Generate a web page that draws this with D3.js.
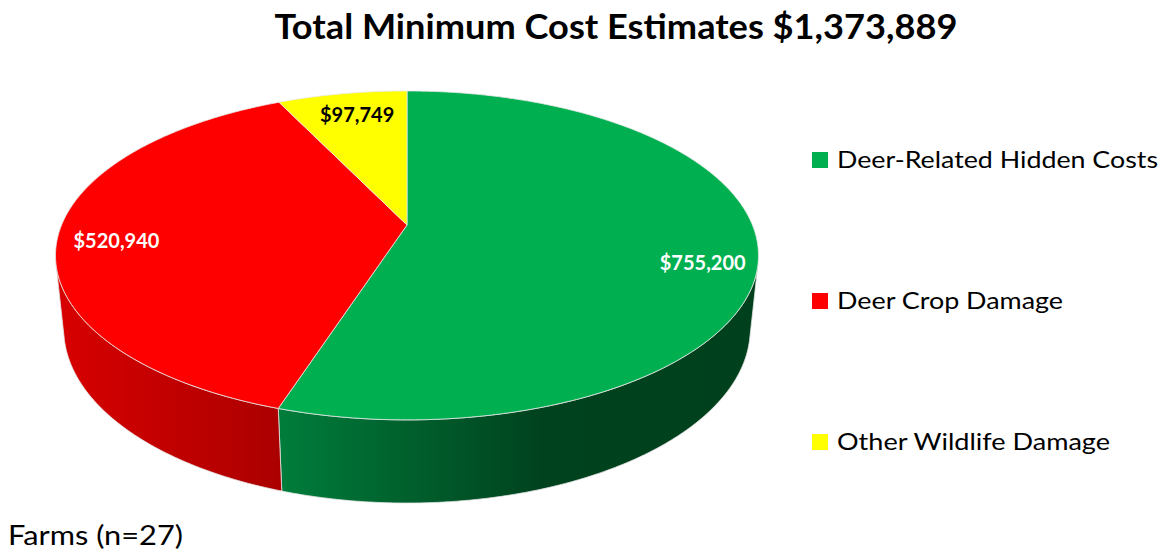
<!DOCTYPE html>
<html>
<head>
<meta charset="utf-8">
<script src="https://cdn.jsdelivr.net/npm/d3@7"></script>
<style>
  body { margin: 0; background: #fff; }
  svg { display: block; font-family: Lato, "Open Sans", sans-serif; }
</style>
</head>
<body>
<svg id="chart" width="1167" height="550"></svg>
<script>
// data
var categories = ["Deer-Related Hidden Costs", "Deer Crop Damage", "Other Wildlife Damage"];
var values = [755200, 520940, 97749];
var colors = ["#00b050", "#ff0000", "#ffff00"];
var labelColors = ["#ffffff", "#ffffff", "#000000"];
var title = "Total Minimum Cost Estimates $1,373,889";
var note = "Farms (n=27)";

var svg = d3.select("#chart");
var fmt = d3.format("$,");

// 3d view (perspective pie, fitted to the picture)
var cx = 407, cy = 225,
    F = 1658, D = 4.8,
    cosA = 0.4598, sinA = 0.888,
    depth = 0.242;

function proj(a, r, w) {
    var u = r * Math.sin(a), v = -r * Math.cos(a);
    var yc = v * cosA - w * sinA,
        zc = v * sinA + w * cosA;
    return [cx + F * u / (D - zc), cy + F * yc / (D - zc)];
}

function arcPts(a0, a1, w) {
    var n = Math.max(2, Math.ceil((a1 - a0) / (Math.PI / 360)));
    return d3.range(n + 1).map(function (i) { return proj(a0 + (a1 - a0) * i / n, 1, w); });
}

var pie = d3.pie().sort(null).value(function (d) { return d; });
var arcs = pie(values);

// front facing part of the wall
var v0 = 1 / (D * sinA);
var visMin = Math.acos(-v0), visMax = 2 * Math.PI - visMin;

var defs = svg.append("defs");
var wallStops = [
    [[0, "#007d3b"], [0.55, "#00421e"], [1, "#00401d"]],
    [[0, "#d80000"], [1, "#ab0000"]],
    [[0, "#e0e000"], [1, "#b8b800"]]
];

var line = d3.line();
var gWall = svg.append("g");
arcs.forEach(function (d, i) {
    var a0 = Math.max(d.startAngle, visMin), a1 = Math.min(d.endAngle, visMax);
    if (a1 <= a0) return;
    var top = arcPts(a0, a1, 0), bot = arcPts(a0, a1, -depth).reverse();
    var ext = d3.extent(top.concat(bot), function (p) { return p[0]; });
    // side gets darker toward the right, like Excel's 3d shading
    var grad = defs.append("linearGradient")
        .attr("id", "wall" + i)
        .attr("gradientUnits", "userSpaceOnUse")
        .attr("x1", ext[0]).attr("x2", ext[1])
        .attr("y1", 0).attr("y2", 0);
    wallStops[i].forEach(function (s) {
        grad.append("stop").attr("offset", s[0]).attr("stop-color", s[1]);
    });
    gWall.append("path")
        .attr("d", line(top.concat(bot)) + "Z")
        .attr("fill", "url(#wall" + i + ")")
        .attr("stroke", "#e4e4e4")
        .attr("stroke-width", 0.8)
        .attr("stroke-linejoin", "round");
});

// top faces
var gTop = svg.append("g");
arcs.forEach(function (d, i) {
    var pts = [proj(0, 0, 0)].concat(arcPts(d.startAngle, d.endAngle, 0));
    gTop.append("path")
        .attr("d", line(pts) + "Z")
        .attr("fill", colors[i])
        .attr("stroke", "#e8e8e8")
        .attr("stroke-width", 0.8)
        .attr("stroke-linejoin", "round");
});

// data labels
var labelNudge = [[2, 16], [2, 6], [6, 2]];
arcs.forEach(function (d, i) {
    var p = proj((d.startAngle + d.endAngle) / 2, 0.84, 0);
    svg.append("text")
        .attr("x", p[0] + labelNudge[i][0])
        .attr("y", p[1] + labelNudge[i][1])
        .attr("text-anchor", "middle")
        .attr("dominant-baseline", "central")
        .attr("font-weight", "bold")
        .attr("font-size", 20)
        .attr("fill", labelColors[i])
        .text(fmt(values[i]));
});

// title
svg.append("text")
    .attr("x", 616).attr("y", 39)
    .attr("text-anchor", "middle")
    .attr("font-weight", "bold")
    .attr("font-size", 34)
    .attr("textLength", 683)
    .attr("lengthAdjust", "spacingAndGlyphs")
    .text(title);

// legend
var legendY = d3.scalePoint().domain(categories).range([160, 442]);
var legendW = [321, 226, 273];
var lg = svg.append("g").selectAll("g")
    .data(categories)
    .enter().append("g")
    .attr("transform", function (d) { return "translate(812," + legendY(d) + ")"; });
lg.append("rect")
    .attr("x", 0).attr("y", -8)
    .attr("width", 16).attr("height", 16)
    .attr("fill", function (d, i) { return colors[i]; });
lg.append("text")
    .attr("x", 25).attr("y", 8)
    .attr("font-size", 23)
    .attr("textLength", function (d, i) { return legendW[i]; })
    .attr("lengthAdjust", "spacingAndGlyphs")
    .attr("fill", "#000")
    .text(function (d) { return d; });

svg.append("text")
    .attr("x", 8).attr("y", 545)
    .attr("font-size", 26)
    .attr("textLength", 175)
    .attr("lengthAdjust", "spacingAndGlyphs")
    .attr("fill", "#000")
    .text(note);
</script>
</body>
</html>
